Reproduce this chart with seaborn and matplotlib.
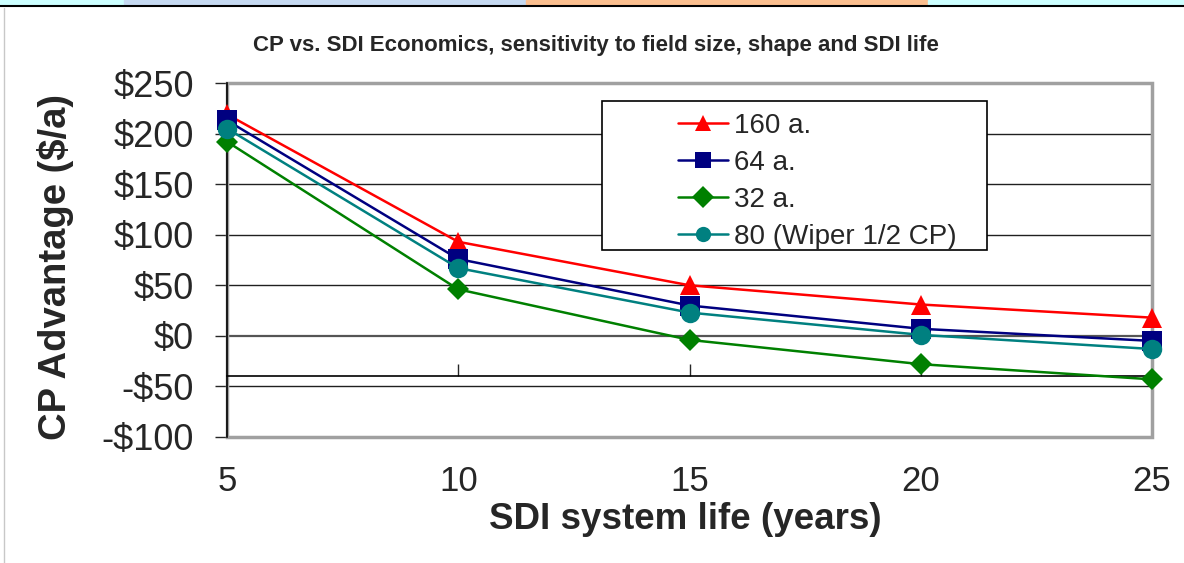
import numpy as np
import pandas as pd
import seaborn as sns
import matplotlib
matplotlib.use("Agg")
import matplotlib.pyplot as plt
from matplotlib.patches import Rectangle
from matplotlib.lines import Line2D
from matplotlib.ticker import FuncFormatter

#%% data
years = [5, 10, 15, 20, 25]
series_names = ["160 a.", "64 a.", "32 a.", "80 (Wiper 1/2 CP)"]
cp_160 = [219, 93, 50, 31, 18]
cp_64 = [213, 76, 30, 7, -5]
cp_32 = [192, 46, -4, -28, -43]
cp_80 = [205, 67, 23, 1, -13]

colors = {"160 a.": "#FF0000", "64 a.": "#000080",
          "32 a.": "#008000", "80 (Wiper 1/2 CP)": "#008080"}
markers = {"160 a.": "^", "64 a.": "s", "32 a.": "D", "80 (Wiper 1/2 CP)": "o"}

df = pd.concat([
    pd.DataFrame({"year": years, "value": vals, "series": name})
    for name, vals in zip(series_names, [cp_160, cp_64, cp_32, cp_80])
])

#%% figure
sns.set_style("white")
plt.rcParams["font.family"] = ["Liberation Sans", "DejaVu Sans"]

fig = plt.figure(figsize=(11.84, 5.63), dpi=100)
ax = fig.add_axes([227/1184, 1-437/563, 925/1184, 354/563])

sns.lineplot(data=df, x="year", y="value", hue="series", style="series",
             hue_order=series_names, style_order=series_names,
             palette=colors, markers=markers, dashes=False,
             markersize=14, markeredgewidth=0, linewidth=1.8,
             ax=ax, zorder=5)
for ln in ax.get_lines():
    ln.set_clip_on(False)
    if ln.get_marker() == "D":
        ln.set_markersize(11)

ax.set_xlim(5, 25)
ax.set_ylim(-100, 250)
ax.set_yticks(np.arange(-100, 251, 50))
ax.set_xticks(years)
ax.yaxis.set_major_formatter(FuncFormatter(lambda v, p: f"-${-v:.0f}" if v < 0 else f"${v:.0f}"))

# horizontal gridlines
for yv in np.arange(-50, 250, 50):
    ax.axhline(yv, color="#202020" if yv else "#555555", lw=1 if yv else 1.6, zorder=1)

# plot-area border (gray) and axes
ax.add_patch(Rectangle((0, 0), 1, 1, transform=ax.transAxes, fill=False,
                       edgecolor="#a0a0a0", lw=2.5, clip_on=False, zorder=2))
for s in ["top", "right"]:
    ax.spines[s].set_visible(False)
ax.spines["left"].set_color("black")
ax.spines["left"].set_linewidth(1.2)
ax.spines["left"].set_zorder(3)
ax.spines["bottom"].set_position(("data", -40))
ax.spines["bottom"].set_color("black")
ax.spines["bottom"].set_linewidth(1.2)

ax.tick_params(axis="y", direction="out", length=9, width=1, labelsize=26, pad=15, left=True)
ax.tick_params(axis="x", direction="in", length=9, width=1, labelsize=25, pad=64, bottom=True)

ax.set_ylabel("CP Advantage ($/a)", fontsize=27.5, fontweight="bold")
ax.yaxis.set_label_coords(-0.165, 0.48)
ax.set_xlabel("SDI system life (years)", fontsize=26.5, fontweight="bold")
ax.xaxis.set_label_coords(0.495, -0.185)

fig.text(596/1184, 1-45/563, "CP vs. SDI Economics, sensitivity to field size, shape and SDI life",
         ha="center", va="center", fontsize=16, fontweight="bold")

# legend box
ax.add_patch(Rectangle((0.405, 0.528), 0.417, 0.421, transform=ax.transAxes,
                       facecolor="white", edgecolor="black", lw=1.2, zorder=4))
handles, labels = ax.get_legend_handles_labels()
leg = ax.legend(handles, labels, loc="upper left", bbox_to_anchor=(0.4876, 0.916),
                frameon=False, fontsize=20, borderpad=0, borderaxespad=0,
                handlelength=1.8, handletextpad=0.2, labelspacing=0.4)
leg.set_zorder(6)
for h in leg.legend_handles:
    h.set_markersize(11)
    h.set_linewidth(1.8)

# slide decorations: top colour strip, rule, left border
strip = [(0, 124, "#CCFFFF"), (124, 526, "#C5D9F1"), (526, 928, "#FBBF8F"), (928, 1184, "#CCFFFF")]
for x0, x1, c in strip:
    fig.patches.append(Rectangle((x0/1184, 1-4/563), (x1-x0)/1184, 4/563,
                                 transform=fig.transFigure, color=c, zorder=0))
fig.lines.append(Line2D([0, 1], [1-5.5/563, 1-5.5/563], transform=fig.transFigure,
                        color="black", lw=1.5))
fig.lines.append(Line2D([4/1184, 4/1184], [0, 1-8/563], transform=fig.transFigure,
                        color="#c8c8c8", lw=1))

fig.savefig("out.png", dpi=100)
